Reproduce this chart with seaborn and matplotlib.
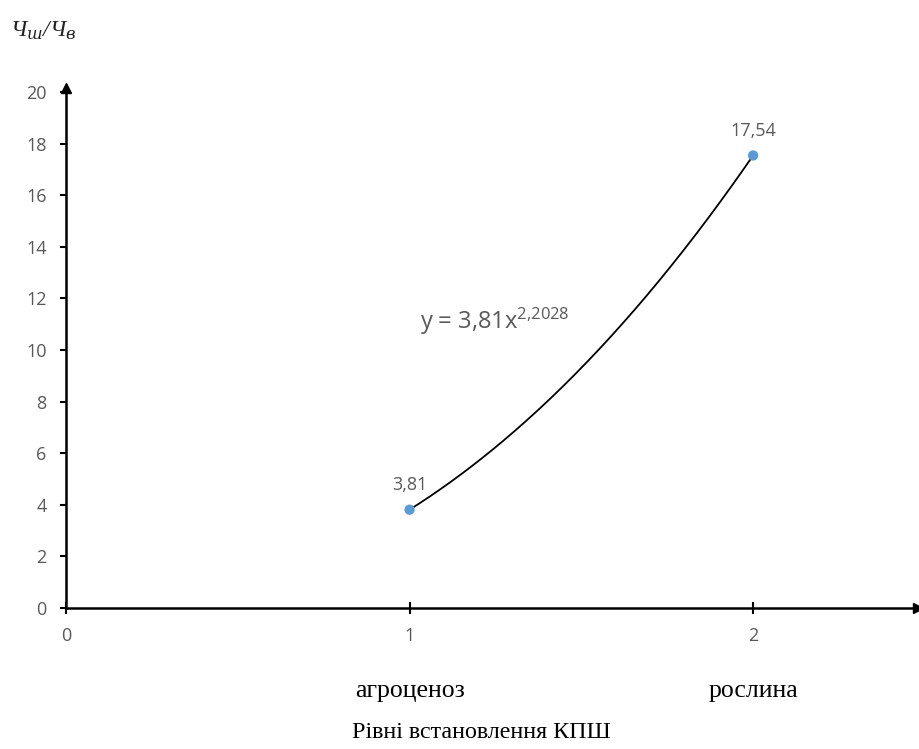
import numpy as np
import pandas as pd
import matplotlib
matplotlib.use("Agg")
import matplotlib.pyplot as plt
import seaborn as sns

# ---- data ----
x_vals = [1, 2]
y_vals = [3.81, 17.54]
point_labels = ["3,81", "17,54"]
categories = ["агроценоз", "рослина"]
trend_a = 3.81
trend_b = 2.2028
equation = "y = 3,81x$^{2{,}2028}$"
y_ticks = [0, 2, 4, 6, 8, 10, 12, 14, 16, 18, 20]
x_ticks = [0, 1, 2]
x_title = "Рівні встановлення КПШ"
y_title = "Ч$_{ш}$/Ч$_{в}$"

sns.set_theme(style="white")
plt.rcParams["font.family"] = ["Open Sans", "DejaVu Sans"]
plt.rcParams["mathtext.fontset"] = "custom"
plt.rcParams["mathtext.rm"] = "Open Sans"
plt.rcParams["mathtext.it"] = "Open Sans:italic"

fig = plt.figure(figsize=(9.2, 7.49), dpi=100)
ax = fig.add_axes([66 / 920, (749 - 608) / 749, (918 - 66) / 920, (608 - 92) / 749])

df = pd.DataFrame({"x": x_vals, "y": y_vals})

# trendline from equation coefficients
xs = np.linspace(x_vals[0], x_vals[-1], 200)
trend = pd.DataFrame({"x": xs, "y": trend_a * xs ** trend_b})
sns.lineplot(data=trend, x="x", y="y", ax=ax, color="black", linewidth=1.3, zorder=2)
sns.scatterplot(data=df, x="x", y="y", ax=ax, color="#5B9BD5", s=55, edgecolor="none", zorder=3)

for xv, yv, lab in zip(x_vals, y_vals, point_labels):
    ax.annotate(lab, (xv, yv), xytext=(0, 11), textcoords="offset points",
                ha="center", va="bottom", fontsize=13, color="#595959")

ax.text(0.415, 0.555, equation, transform=ax.transAxes, fontsize=17, color="#595959",
        ha="left", va="center")

ax.set_xlim(0, 2.48)
ax.set_ylim(0, 20)
ax.set_xticks(x_ticks)
ax.set_yticks(y_ticks)
ax.set_xticklabels([str(t) for t in x_ticks])
ax.set_yticklabels([str(t) for t in y_ticks])
ax.set_xlabel("")
ax.set_ylabel("")

for s in ["top", "right"]:
    ax.spines[s].set_visible(False)
for s in ["left", "bottom"]:
    ax.spines[s].set_linewidth(1.8)
    ax.spines[s].set_color("black")
ax.spines["left"].set_bounds(0, 20.15)

ax.tick_params(axis="y", which="major", direction="out", length=4, width=1.5,
               color="black", pad=10, labelsize=13, labelcolor="#595959", left=True)
ax.tick_params(axis="x", which="major", direction="inout", length=8, width=1.5,
               color="black", pad=10, labelsize=13, labelcolor="#595959", bottom=True)

# arrowheads
ax.plot(1, 0, marker=">", color="black", markersize=7, transform=ax.get_yaxis_transform(), clip_on=False)
ax.plot(0, 1.008, marker="^", color="black", markersize=7, transform=ax.get_xaxis_transform(), clip_on=False)

for xv, cat in zip(x_vals, categories):
    ax.text(xv, -0.16, cat, transform=ax.get_xaxis_transform(), ha="center", va="center",
            fontsize=18.5, family=["Liberation Serif"], color="black")

fig.text(481 / 920, 1 - 732 / 749, x_title, ha="center", va="center", fontsize=17.3,
         family=["Liberation Serif"], color="black")

fig.text(10 / 920, 1 - 31 / 749, y_title, ha="left", va="center", fontsize=17,
         family=["Liberation Serif"], style="italic", color="#222222",
         math_fontfamily="dejavuserif")

fig.savefig("out.png", dpi=100, facecolor="white")
